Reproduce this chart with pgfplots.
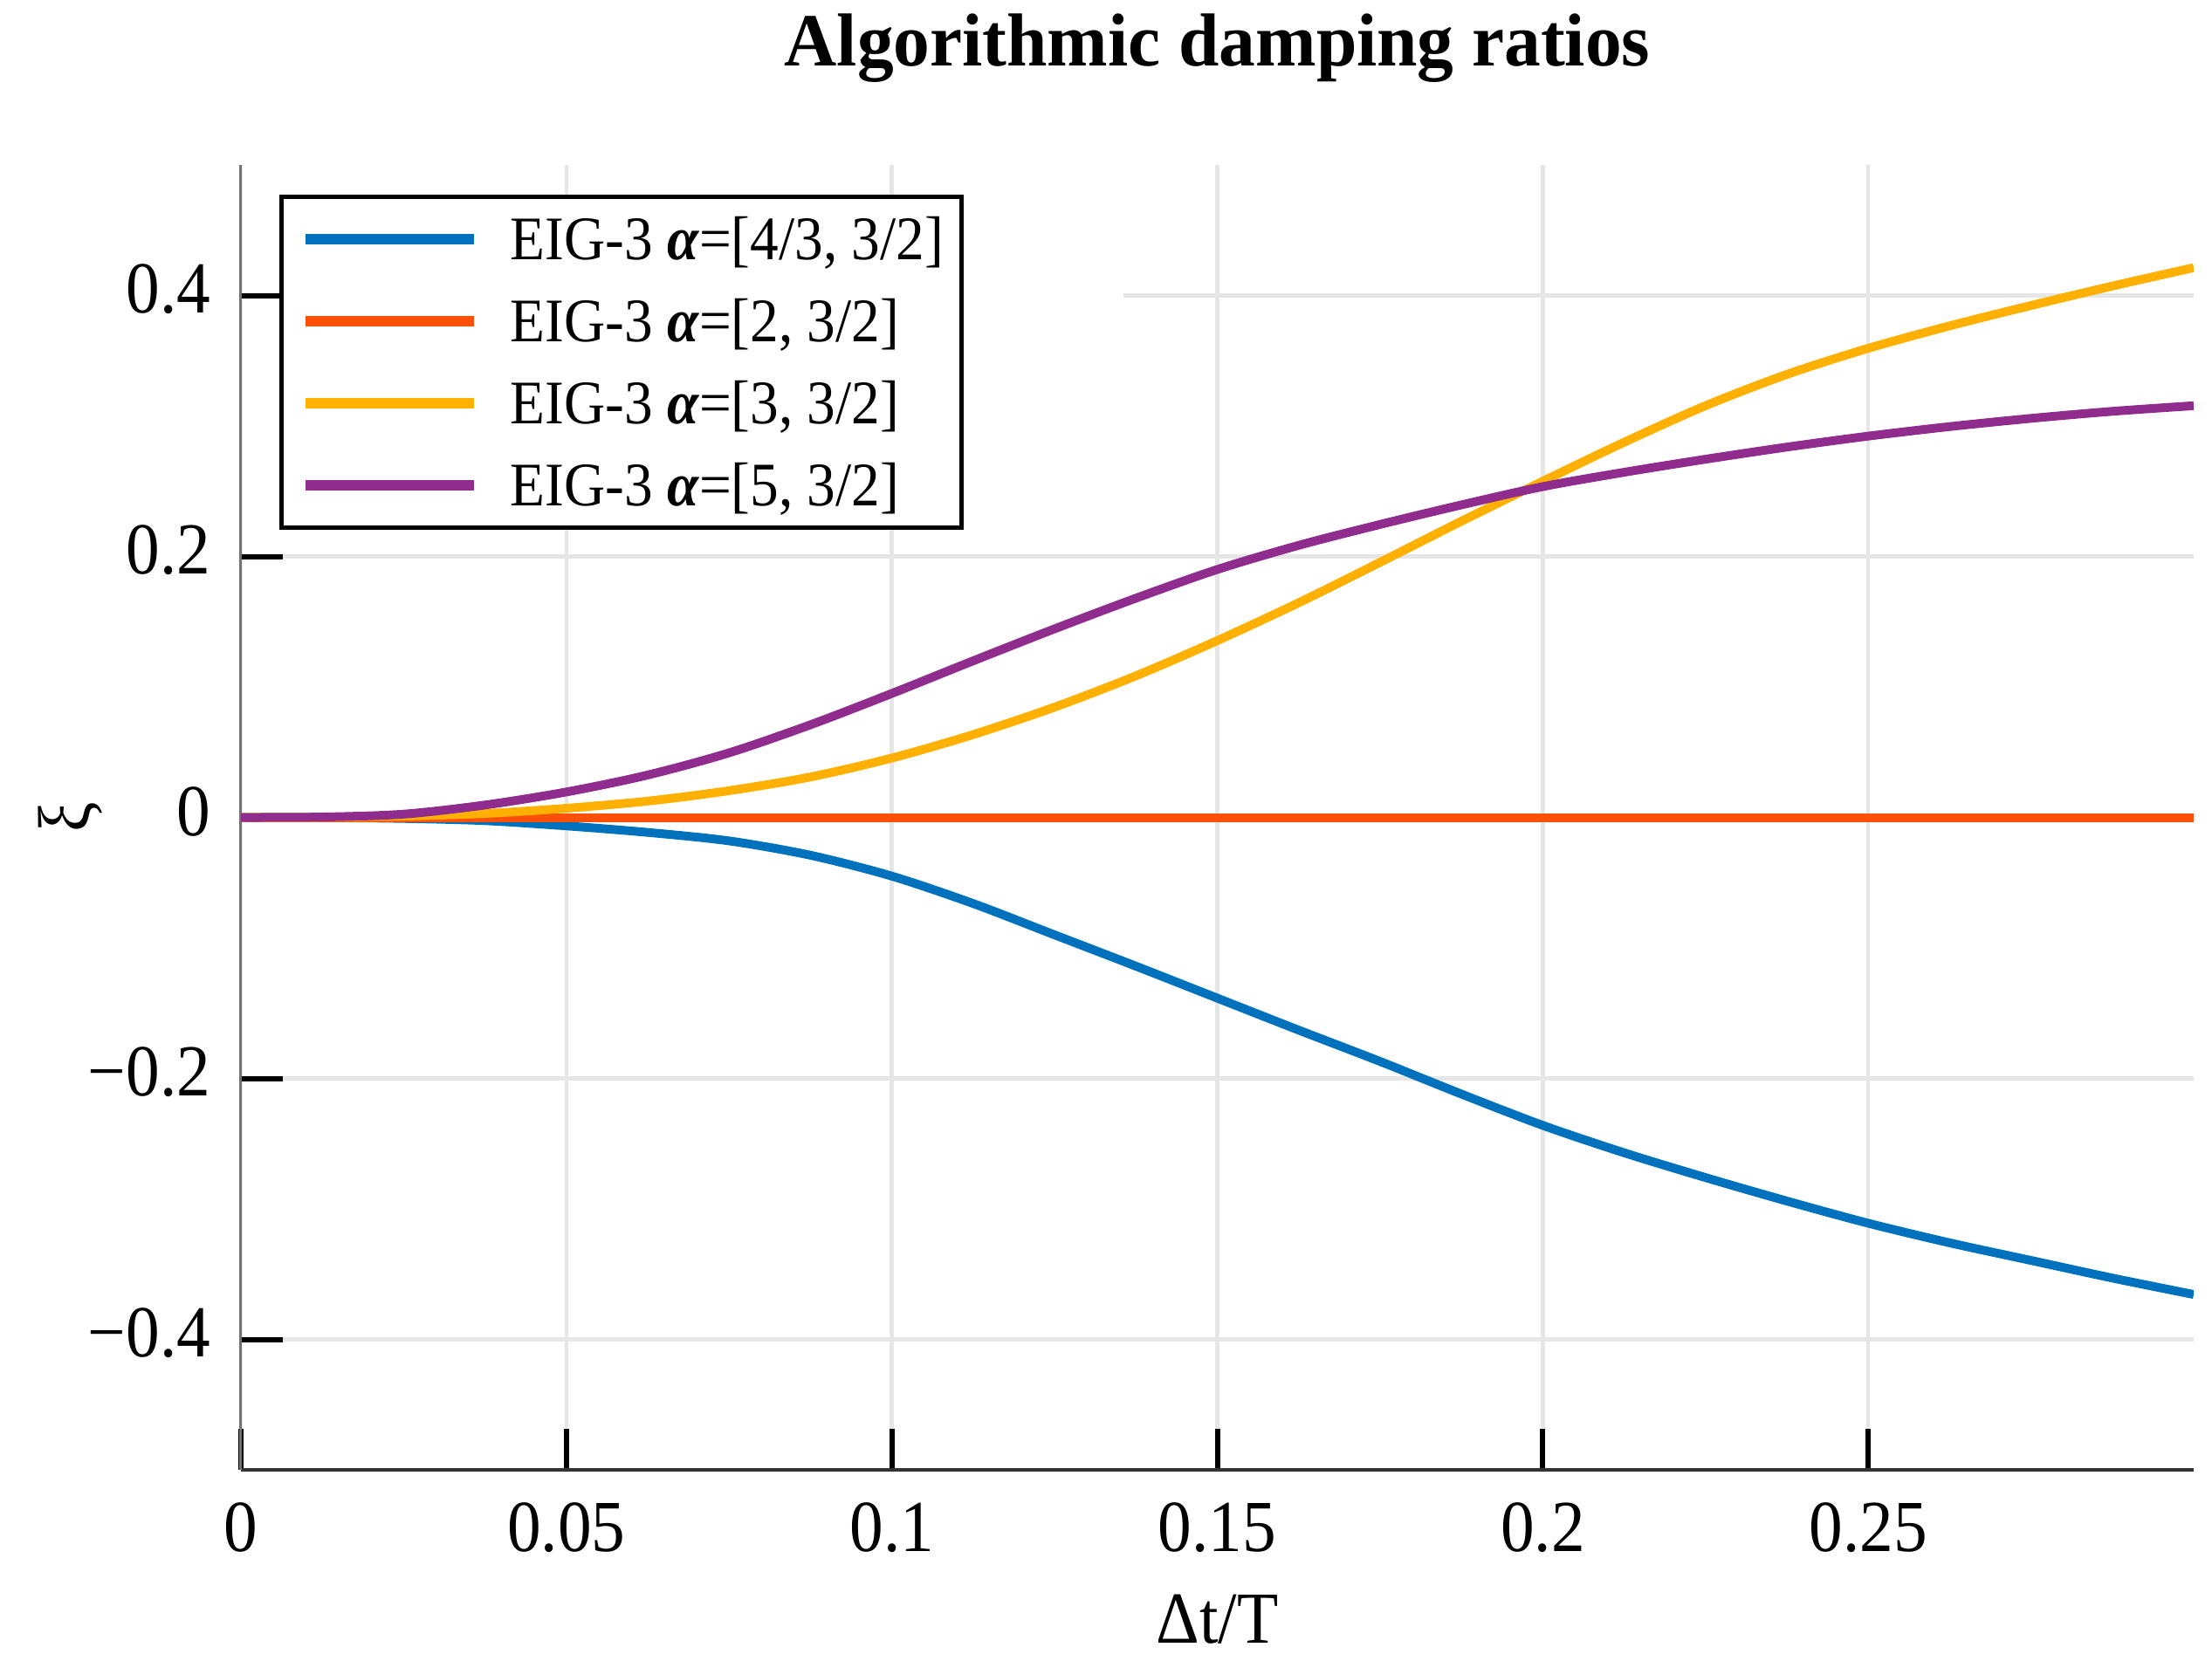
\documentclass[border=0pt]{standalone}
\usepackage{fontspec}
\setmainfont{Liberation Serif}[FakeStretch=0.92]
\newfontfamily\titlefont{Liberation Serif}[FakeStretch=0.97]
\usepackage{pgfplots}
\pgfplotsset{compat=1.18}
\definecolor{c1}{HTML}{0072BD}
\definecolor{c2}{HTML}{FA500A}
\definecolor{c3}{HTML}{FFB000}
\definecolor{c4}{HTML}{8F2C8E}
\definecolor{gridc}{HTML}{E6E6E6}

\pgfplotstableread{
x y
0 0
0.0125 -0.0001
0.025 -0.0008
0.0375 -0.0025
0.05 -0.0065
0.0625 -0.0115
0.075 -0.018
0.0875 -0.029
0.1 -0.045
0.1125 -0.066
0.125 -0.090
0.1375 -0.114
0.15 -0.1385
0.1625 -0.163
0.175 -0.187
0.1875 -0.212
0.2 -0.236
0.2125 -0.257
0.225 -0.276
0.2375 -0.294
0.25 -0.311
0.2625 -0.326
0.275 -0.3395
0.2875 -0.353
0.3 -0.3656
}\blueT

\pgfplotstableread{
x y
0 0
0.3 0
}\orangeT

\pgfplotstableread{
x y
0 0
0.0125 0.0002
0.025 0.001
0.0375 0.003
0.05 0.007
0.0625 0.0125
0.075 0.0205
0.0875 0.031
0.1 0.0455
0.1125 0.0635
0.125 0.0845
0.1375 0.1085
0.15 0.1355
0.1625 0.1645
0.175 0.1955
0.1875 0.2270
0.2 0.2576
0.2125 0.2875
0.225 0.3155
0.2375 0.3395
0.25 0.3595
0.2625 0.3767
0.275 0.3923
0.2875 0.4072
0.3 0.4213
}\yellowT

\pgfplotstableread{
x y
0 0
0.0125 0.0003
0.025 0.0025
0.0375 0.0095
0.05 0.0195
0.0625 0.0325
0.075 0.0495
0.0875 0.071
0.1 0.095
0.1125 0.120
0.125 0.1445
0.1375 0.168
0.15 0.190
0.1625 0.2085
0.175 0.2245
0.1875 0.2395
0.2 0.2535
0.2125 0.2645
0.225 0.2745
0.2375 0.2838
0.25 0.2922
0.2625 0.2995
0.275 0.3058
0.2875 0.3112
0.3 0.3155
}\purpleT

\begin{document}
\begin{tikzpicture}
\path (-55.2pt,-43.8pt) rectangle (451.6pt,336.8pt);
\begin{axis}[
  at={(0pt,0pt)}, anchor=south west,
  scale only axis, width=447.4pt, height=299pt,
  xmin=0, xmax=0.3, ymin=-0.5, ymax=0.5,
  axis x line*=bottom, axis y line*=left,
  x axis line style={draw=black!80, line width=0.7pt},
  y axis line style={draw=black!55, line width=0.6pt},
  xtick={0,0.05,0.1,0.15,0.2,0.25},
  xticklabels={0,0.05,0.1,0.15,0.2,0.25},
  ytick={-0.4,-0.2,0,0.2,0.4},
  yticklabels={−0.4,−0.2,0,0.2,0.4},
  tick align=inside,
  major tick length=9.5pt,
  every tick/.style={black, line width=1.2pt},
  grid=major,
  major grid style={draw=gridc, line width=0.9pt},
  ticklabel style={font=\fontsize{16.8pt}{20pt}\selectfont},
  xticklabel style={anchor=base, yshift=-18.6pt},
  yticklabel style={anchor=east, inner sep=0pt, xshift=-6.8pt, yshift=1.4pt},
  xlabel={Δt/T},
  xlabel style={at={(axis description cs:0.5,-0.1331)}, anchor=base, inner sep=0pt, font=\fontsize{16.8pt}{20pt}\selectfont},
  ylabel={ξ},
  ylabel style={at={(axis description cs:-0.0872,0.5)}, anchor=center, inner sep=0pt, font=\fontsize{16.8pt}{20pt}\selectfont},
  title={Algorithmic damping ratios},
  every axis title shift=0pt,
  title style={at={(axis description cs:0.5,1.07625)}, anchor=base, inner sep=0pt, font=\titlefont\bfseries\fontsize{17.2pt}{20pt}\selectfont},
  legend style={at={(axis description cs:0.01967,0.97726)}, anchor=north west,
    draw=black, line width=1pt, fill=white, inner xsep=4.2pt, inner ysep=2pt,
    row sep=3.4pt, font=\fontsize{14.2pt}{17pt}\selectfont,
    nodes={inner sep=0pt, text height=12.4pt, text depth=3pt},
    /tikz/every odd column/.append style={column sep=7.1pt}},
  legend cell align=left,
  legend image code/.code={\draw[#1, line width=2.5pt] (0pt,0pt) -- (38.6pt,0pt);},
  every axis plot/.append style={line width=2pt, line join=round},
]
\addplot[c1, smooth] table {\blueT};
\addlegendentry{EIG-3 \textbf{\textit{α}}=[4/3, 3/2]\hspace{3pt}}
\addplot[c2] table {\orangeT};
\addlegendentry{EIG-3 \textbf{\textit{α}}=[2, 3/2]}
\addplot[c3, smooth] table {\yellowT};
\addlegendentry{EIG-3 \textbf{\textit{α}}=[3, 3/2]}
\addplot[c4, smooth] table {\purpleT};
\addlegendentry{EIG-3 \textbf{\textit{α}}=[5, 3/2]}
\fill[white] (axis cs:0.1,0.375) rectangle (axis cs:0.1356,0.425);
\end{axis}
\end{tikzpicture}
\end{document}
